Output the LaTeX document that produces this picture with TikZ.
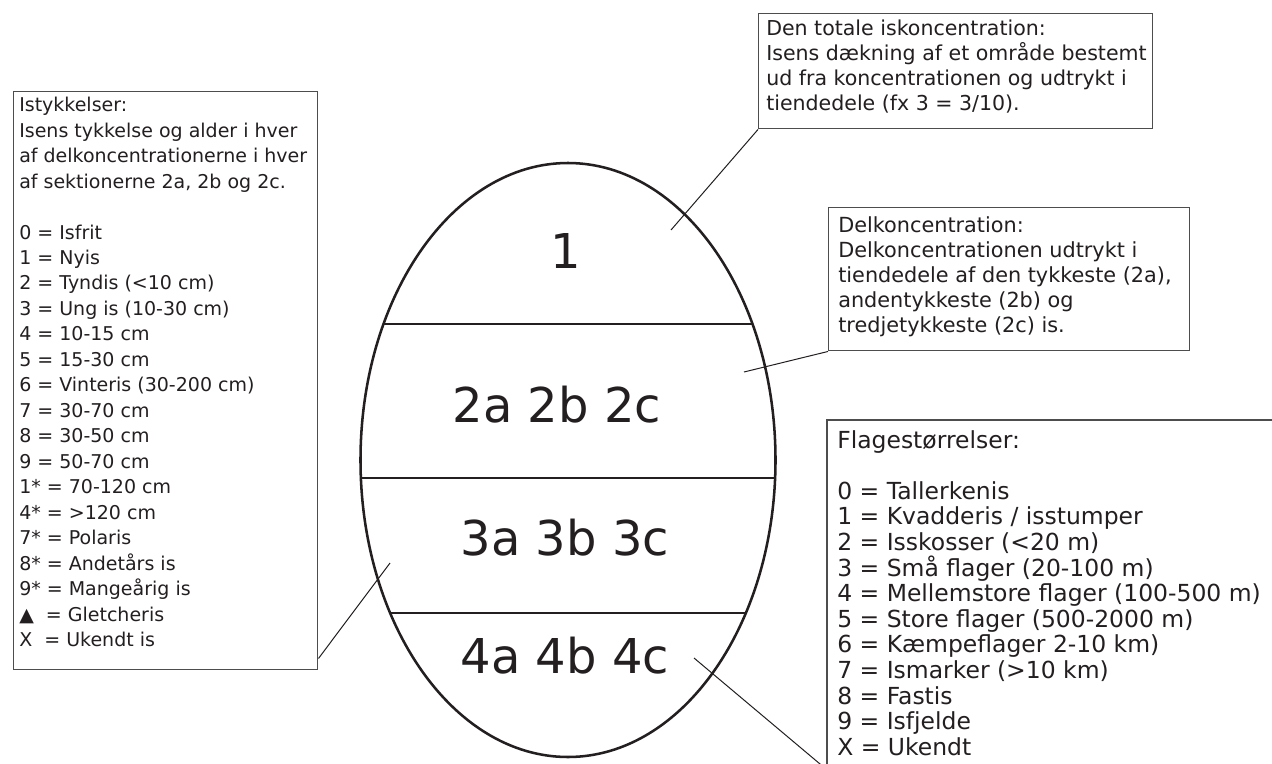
\documentclass[tikz,border=0pt]{standalone}
\usepackage{fontspec}
\setmainfont{DejaVu Sans}
\usetikzlibrary{shapes.geometric}
\definecolor{ink}{HTML}{231F20}
\definecolor{frame}{HTML}{4D4D4D}
\begin{document}
\begin{tikzpicture}[x=0.75pt,y=-0.75pt,
  boxframe/.style={draw=frame, line width=1.1pt, inner sep=0pt, anchor=north west},
  txt/.style={anchor=north west, inner sep=0pt, align=left, text=ink},
  big/.style={text=ink, font=\fontsize{36}{40}\selectfont, inner sep=0pt},
  lead/.style={draw=ink, line width=0.75pt},
  sepline/.style={draw=ink, line width=1.5pt}]
\useasboundingbox (0,0) rectangle (1272,764);
\fill[white] (0,0) rectangle (1272,764);

% egg
\node[ellipse, draw=ink, line width=1.9pt, minimum width=311.25pt, minimum height=445.5pt, inner sep=0pt] (egg) at (568,460) {};
\draw[sepline] (384,324) -- (752,324);
\draw[sepline] (361,478) -- (775,478);
\draw[sepline] (391,613) -- (745,613);

\node[big] (l1) at (566,251) {1};
\node[big] (l2) at (557,405) {2a 2b 2c};
\node[big] (l3) at (565,538) {3a 3b 3c};
\node[big] (l4) at (565,656) {4a 4b 4c};

% boxes
\node[boxframe, minimum width=295.5pt, minimum height=86.25pt] (topbox) at (758,13) {};
\node[txt, font=\fontsize{15.4}{18.75}\selectfont] (toptext) at (766,19.5) {Den totale iskoncentration:\\Isens dækning af et område bestemt\\ud fra koncentrationen og udtrykt i\\tiendedele (fx 3 = 3/10).};

\node[boxframe, minimum width=270.75pt, minimum height=107.25pt] (delkbox) at (828,207) {};
\node[txt, font=\fontsize{15.6}{18.75}\selectfont] (delktext) at (838,216) {Delkoncentration:\\Delkoncentrationen udtrykt i\\tiendedele af den tykkeste (2a),\\andentykkeste (2b) og\\tredjetykkeste (2c) is.};

\node[boxframe, minimum width=228pt, minimum height=433.5pt] (leftbox) at (13,91) {};
\node[txt, font=\fontsize{14.25}{19.1}\selectfont] (lefttext) at (19,97) {Istykkelser:\\Isens tykkelse og alder i hver\\af delkoncentrationerne i hver\\af sektionerne 2a, 2b og 2c.\\ \mbox{}\\0 = Isfrit\\1 = Nyis\\2 = Tyndis (<10 cm)\\3 = Ung is (10-30 cm)\\4 = 10-15 cm\\5 = 15-30 cm\\6 = Vinteris (30-200 cm)\\7 = 30-70 cm\\8 = 30-50 cm\\9 = 50-70 cm\\1* = 70-120 cm\\4* = >120 cm\\7* = Polaris\\8* = Andetårs is\\9* = Mangeårig is\\▲\ \ = Gletcheris\\X\ \ = Ukendt is};

\node[inner sep=0pt, anchor=north west, minimum width=342pt, minimum height=262pt] (flagebox) at (827,420) {};
\draw[draw=frame, line width=1.1pt] (flagebox.south west) |- (flagebox.north east);
\node[txt, font=\fontsize{17.6}{19.2}\selectfont] (flagetext) at (837,430) {Flagestørrelser:\\ \mbox{}\\0 = Tallerkenis\\1 = Kvadderis / isstumper\\2 = Isskosser (<20 m)\\3 = Små flager (20-100 m)\\4 = Mellemstore flager (100-500 m)\\5 = Store flager (500-2000 m)\\6 = Kæmpeflager 2-10 km)\\7 = Ismarker (>10 km)\\8 = Fastis\\9 = Isfjelde\\X = Ukendt};

% leaders
\coordinate (p1) at (671,230);
\coordinate (p2) at (744,372);
\coordinate (p3) at (390,563);
\coordinate (p4) at (694,658);
\draw[lead] (p1) -- (topbox.south west);
\draw[lead] (p2) -- (delkbox.south west);
\draw[lead] (p3) -- ([yshift=9pt]leftbox.south east);
\draw[lead] (p4) -- (flagebox.south west);
\end{tikzpicture}
\end{document}
